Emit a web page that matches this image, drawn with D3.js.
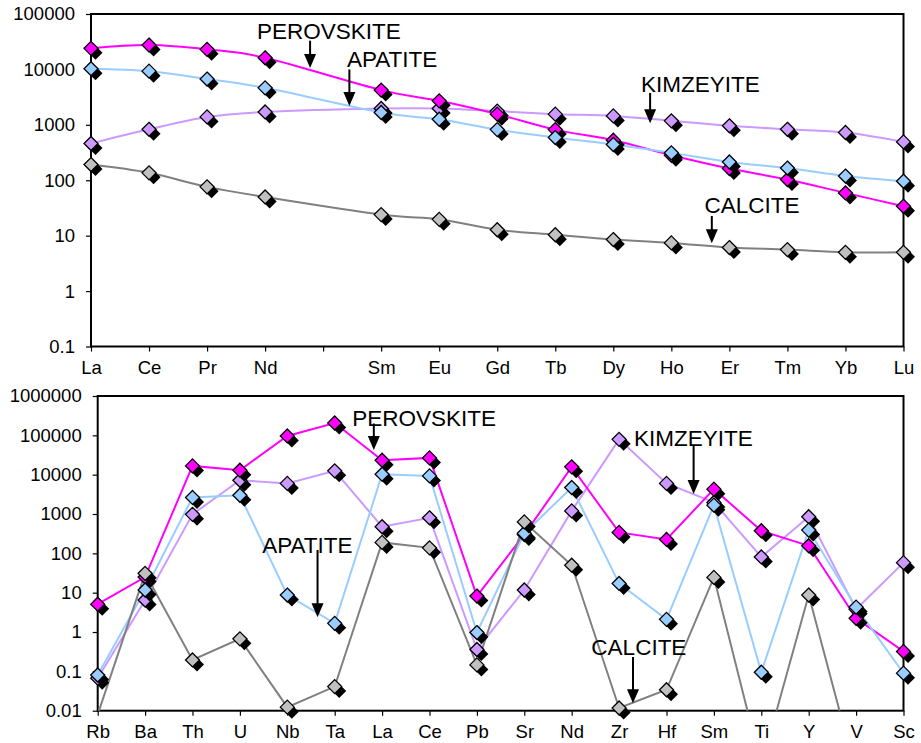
<!DOCTYPE html>
<html>
<head>
<meta charset="utf-8">
<script src="https://cdn.jsdelivr.net/npm/d3@7"></script>
<style>
  html, body { margin: 0; padding: 0; background: #fff; }
  svg { display: block; }
  text { font-family: "Liberation Sans", Arial, sans-serif; fill: #000; }
</style>
</head>
<body>
<svg id="chart" width="921" height="743"></svg>
<script>
// ---- REE pattern (upper panel) ----
const reeLabels = ["La", "Ce", "Pr", "Nd", "", "Sm", "Eu", "Gd", "Tb", "Dy", "Ho", "Er", "Tm", "Yb", "Lu"];
const reePerovskite = [24000, 27500, 23000, 16200, null, 4230, 2710, 1560, 820, 527, 283, 163, 103, 59, 34];
const reeApatite    = [10300, 9300, 6700, 4650, null, 1670, 1260, 820, 590, 441, 312, 214, 166, 119, 96];
const reeKimzeyite  = [460, 830, 1390, 1710, null, 1970, 1970, 1770, 1560, 1450, 1180, 960, 830, 726, 492];
const reeCalcite    = [192, 136, 76, 50, null, 24, 19.7, 12.8, 10.4, 8.5, 7.4, 6.1, 5.6, 5.0, 5.0];
const reeTicks = [0.1, 1, 10, 100, 1000, 10000, 100000];

// ---- Trace element pattern (lower panel) ----
const traceLabels = ["Rb", "Ba", "Th", "U", "Nb", "Ta", "La", "Ce", "Pb", "Sr", "Nd", "Zr", "Hf", "Sm", "Ti", "Y", "V", "Sc"];
const tracePerovskite = [5.1, 25, 16700, 13000, 96600, 206000, 23300, 26700, 8.2, 300, 15800, 341, 226, 4290, 375, 156, 2.24, 0.32];
const traceApatite    = [0.081, 11.7, 2640, 3000, 8.7, 1.66, 10300, 9300, 0.97, 322, 4730, 17.2, 2.1, 1680, 0.095, 390, 4.3, 0.09];
const traceKimzeyite  = [0.067, 6.5, 980, 7200, 6000, 12500, 475, 800, 0.36, 11.7, 1200, 79000, 6000, 1970, 81, 850, 3.8, 58];
const traceCalcite    = [0.008, 31, 0.195, 0.67, 0.0123, 0.041, 190, 138, 0.146, 630, 50, 0.0117, 0.034, 24.5, 0.0004, 8.7, 0.00026, null];
const traceTicks = [0.01, 0.1, 1, 10, 100, 1000, 10000, 100000, 1000000];

// series styling, listed in drawing order (first is lowest)
const seriesOrder = ["kimzeyite", "perovskite", "apatite", "calcite"];
const seriesStyle = {
  calcite:    { line: "#808080", fill: "#C0C0C0" },
  kimzeyite:  { line: "#CC99FF", fill: "#CC99FF" },
  perovskite: { line: "#FF00FF", fill: "#FF00FF" },
  apatite:    { line: "#99CCFF", fill: "#99CCFF" }
};

const svg = d3.select("#chart");

function drawPanel(cfg) {
  const g = svg.append("g");
  const n = cfg.labels.length;
  const x = d3.scalePoint().domain(d3.range(n)).range([cfg.left, cfg.right]);
  const step = (cfg.right - cfg.left) / (n - 1);
  const xf = v => cfg.left + v * step; // fractional category position
  const y = d3.scaleLog().domain(cfg.domain).range([cfg.bottom, cfg.top]);

  const clipId = "clip-" + cfg.id;
  g.append("clipPath").attr("id", clipId)
    .append("rect")
    .attr("x", cfg.left).attr("y", cfg.top)
    .attr("width", cfg.right - cfg.left).attr("height", cfg.bottom - cfg.top);

  // axes
  const yAxis = d3.axisLeft(y).tickValues(cfg.ticks)
    .tickFormat(d => String(d)).tickSizeInner(5).tickSizeOuter(0).tickPadding(11);
  const ya = g.append("g").attr("transform", `translate(${cfg.left},0)`).call(yAxis);
  const xAxis = d3.axisBottom(x).tickFormat(i => cfg.labels[i])
    .tickSizeInner(5).tickSizeOuter(0).tickPadding(9);
  const xa = g.append("g").attr("transform", `translate(0,${cfg.bottom})`).call(xAxis);
  [ya, xa].forEach(a => {
    a.select(".domain").remove();
    a.selectAll(".tick line").attr("stroke", "#000").attr("stroke-width", 1.2);
    a.selectAll(".tick text").style("font-size", "18.5px").attr("fill", "#000");
  });

  // plot frame
  g.append("rect")
    .attr("x", cfg.left).attr("y", cfg.top)
    .attr("width", cfg.right - cfg.left).attr("height", cfg.bottom - cfg.top)
    .attr("fill", "none").attr("stroke", "#000").attr("stroke-width", 2);

  const lineGen = d3.line()
    .x(d => x(d.i)).y(d => y(d.v))
    .curve(cfg.smooth ? d3.curveCatmullRom.alpha(0) : d3.curveLinear);

  const lines = g.append("g").attr("clip-path", `url(#${clipId})`);
  seriesOrder.forEach(name => {
    const pts = cfg.series[name].map((v, i) => ({ i, v })).filter(d => d.v != null);
    lines.append("path").datum(pts)
      .attr("d", lineGen)
      .attr("fill", "none")
      .attr("stroke", seriesStyle[name].line)
      .attr("stroke-width", 2);
  });

  // diamond markers with a dark drop shadow
  const diamond = "M0,-7L7,0L0,7L-7,0Z";
  const marks = g.append("g");
  seriesOrder.forEach(name => {
    const pts = cfg.series[name].map((v, i) => ({ i, v }))
      .filter(d => d.v != null && d.v >= cfg.domain[0] && d.v <= cfg.domain[1]);
    const mg = marks.append("g");
    mg.selectAll("path.shadow").data(pts).join("path")
      .attr("class", "shadow")
      .attr("d", diamond)
      .attr("transform", d => `translate(${x(d.i) + 4.5},${y(d.v) + 4.5})`)
      .attr("fill", "#000");
    mg.selectAll("path.mark").data(pts).join("path")
      .attr("class", "mark")
      .attr("d", diamond)
      .attr("transform", d => `translate(${x(d.i)},${y(d.v)})`)
      .attr("fill", seriesStyle[name].fill)
      .attr("stroke", "#000")
      .attr("stroke-width", 1.3);
  });

  // mineral labels with arrows
  const ann = g.append("g");
  cfg.notes.forEach(a => {
    ann.append("text")
      .attr("x", xf(a.tx)).attr("y", y(a.ty))
      .style("font-size", "22.5px")
      .text(a.text);
    const ax = xf(a.ax), y1 = y(a.a1), y2 = y(a.a2);
    ann.append("line")
      .attr("x1", ax).attr("x2", ax).attr("y1", y1).attr("y2", y2 - 12)
      .attr("stroke", "#000").attr("stroke-width", 2);
    ann.append("path")
      .attr("d", `M${ax - 6},${y2 - 14}L${ax + 6},${y2 - 14}L${ax},${y2}Z`)
      .attr("fill", "#000");
  });
}

drawPanel({
  id: "ree",
  labels: reeLabels,
  ticks: reeTicks,
  domain: [0.1, 100000],
  left: 91, right: 903.5, top: 14, bottom: 346.5,
  smooth: true,
  series: { perovskite: reePerovskite, apatite: reeApatite, kimzeyite: reeKimzeyite, calcite: reeCalcite },
  notes: [
    { text: "PEROVSKITE", tx: 2.86, ty: 34900, ax: 3.775, a1: 33000, a2: 10600 },
    { text: "APATITE", tx: 4.41, ty: 11200, ax: 4.452, a1: 10000, a2: 2190 },
    { text: "KIMZEYITE", tx: 9.479, ty: 3960, ax: 9.634, a1: 3760, a2: 1067 },
    { text: "CALCITE", tx: 10.57, ty: 25.4, ax: 10.697, a1: 22.6, a2: 7.3 }
  ]
});

drawPanel({
  id: "trace",
  labels: traceLabels,
  ticks: traceTicks,
  domain: [0.01, 1000000],
  left: 97.7, right: 903.5, top: 396, bottom: 710.7,
  smooth: false,
  series: { perovskite: tracePerovskite, apatite: traceApatite, kimzeyite: traceKimzeyite, calcite: traceCalcite },
  notes: [
    { text: "PEROVSKITE", tx: 5.368, ty: 172600, ax: 5.825, a1: 200000, a2: 42400 },
    { text: "APATITE", tx: 3.47, ty: 100, ax: 4.638, a1: 122, a2: 2.37 },
    { text: "KIMZEYITE", tx: 11.313, ty: 53600, ax: 12.572, a1: 56800, a2: 3230 },
    { text: "CALCITE", tx: 10.415, ty: 0.261, ax: 11.293, a1: 0.232, a2: 0.01545 }
  ]
});
</script>
</body>
</html>
